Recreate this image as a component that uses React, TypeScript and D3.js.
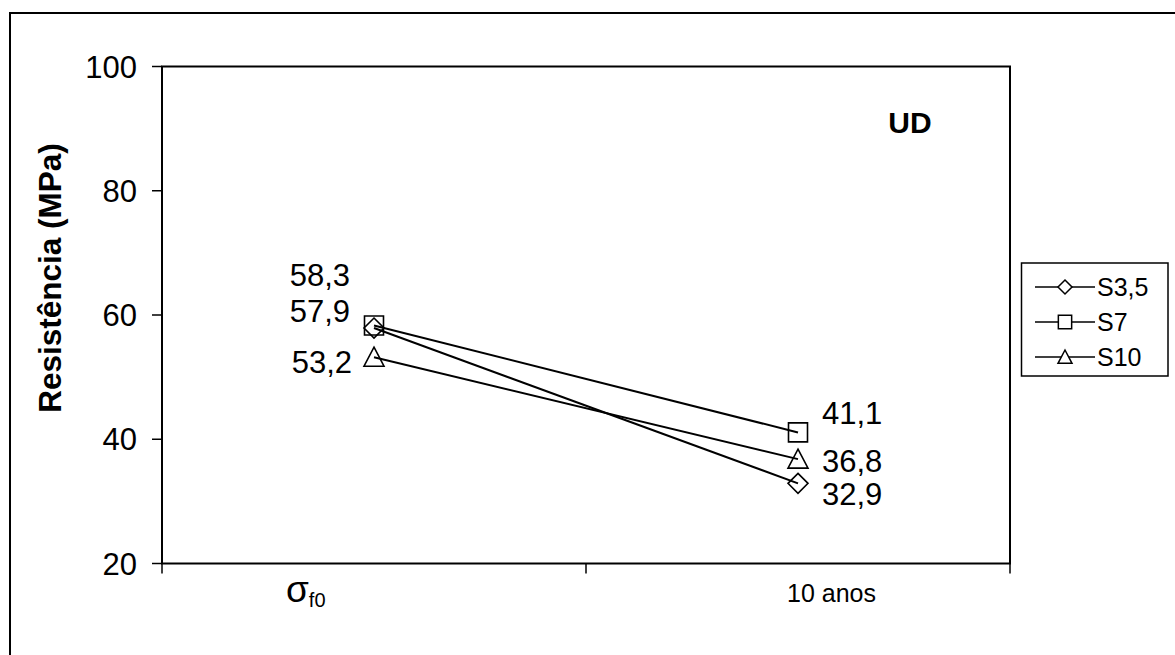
import React, { useEffect, useRef } from "react";
import * as d3 from "d3";

const categories = ["σf0", "10 anos"];
const seriesNames = ["S3,5", "S7", "S10"];
const s35Values = [57.9, 32.9];
const s7Values = [58.3, 41.1];
const s10Values = [53.2, 36.8];
const yTicks = [20, 40, 60, 80, 100];
// Data-label offsets (px) relative to each point: [dx, dy] for each category
const s35LabelOffsets: [number, number][] = [[-24, -6], [24, 22]];
const s7LabelOffsets: [number, number][] = [[-24, -40], [24, -8]];
const s10LabelOffsets: [number, number][] = [[-22, 16], [24, 13]];

const W = 1175;
const H = 655;
const plot = { left: 162, right: 1010, top: 66.5, bottom: 563.5 };
const FONT = "'Liberation Sans', Arial, sans-serif";

export default function App() {
  const ref = useRef<SVGSVGElement | null>(null);

  useEffect(() => {
    document.body.style.margin = "0";
    const svg = d3.select(ref.current);
    svg.selectAll("*").remove();

    const x = d3.scaleBand<string>().domain(categories).range([plot.left, plot.right]).padding(0);
    const y = d3.scaleLinear().domain([20, 100]).range([plot.bottom, plot.top]);
    const cx = (c: string) => (x(c) as number) + x.bandwidth() / 2;

    // Outer chart border (right and bottom lie beyond the view)
    svg.append("rect")
      .attr("x", 10).attr("y", 13)
      .attr("width", W + 20).attr("height", H + 20)
      .attr("fill", "white").attr("stroke", "black").attr("stroke-width", 2);

    // Plot area frame
    svg.append("rect")
      .attr("x", plot.left).attr("y", plot.top)
      .attr("width", plot.right - plot.left).attr("height", plot.bottom - plot.top)
      .attr("fill", "none").attr("stroke", "black").attr("stroke-width", 2);

    // Y axis ticks and labels
    const yAxis = svg.append("g");
    yTicks.forEach((t) => {
      yAxis.append("line")
        .attr("x1", plot.left - 10).attr("x2", plot.left)
        .attr("y1", y(t)).attr("y2", y(t))
        .attr("stroke", "black").attr("stroke-width", 1.5);
      yAxis.append("text")
        .attr("x", plot.left - 25).attr("y", y(t))
        .attr("dy", "0.36em")
        .attr("text-anchor", "end")
        .attr("font-family", FONT).attr("font-size", 31)
        .text(String(t));
    });

    // X axis ticks at category boundaries
    const bounds = [plot.left, ...categories.slice(1).map((c) => x(c) as number), plot.right];
    bounds.forEach((bx) => {
      svg.append("line")
        .attr("x1", bx).attr("x2", bx)
        .attr("y1", plot.bottom).attr("y2", plot.bottom + 10)
        .attr("stroke", "black").attr("stroke-width", 1.5);
    });

    // Category labels
    const c0 = svg.append("text")
      .attr("x", cx(categories[0]) - 88).attr("y", 602)
      .attr("font-family", FONT);
    c0.append("tspan").attr("font-size", 37).text("σ");
    c0.append("tspan").attr("font-size", 20).attr("dy", 5).text("f0");
    svg.append("text")
      .attr("x", cx(categories[1]) - 11).attr("y", 602)
      .attr("font-family", FONT).attr("font-size", 25)
      .text(categories[1]);

    // Y axis title
    svg.append("text")
      .attr("transform", `translate(61, 278) rotate(-90)`)
      .attr("text-anchor", "middle")
      .attr("font-family", FONT).attr("font-size", 31.5).attr("font-weight", "bold")
      .text("Resistência (MPa)");

    // Panel tag
    svg.append("text")
      .attr("x", 910).attr("y", 133)
      .attr("text-anchor", "middle")
      .attr("font-family", FONT).attr("font-size", 30).attr("font-weight", "bold")
      .text("UD");

    const seriesData = [
      { name: seriesNames[0], values: s35Values, offsets: s35LabelOffsets, marker: "diamond" },
      { name: seriesNames[1], values: s7Values, offsets: s7LabelOffsets, marker: "square" },
      { name: seriesNames[2], values: s10Values, offsets: s10LabelOffsets, marker: "triangle" },
    ];

    const markerPath = (kind: string, px: number, py: number, s = 1) => {
      if (kind === "diamond") {
        const r = 10 * s;
        return `M${px},${py - r}L${px + r},${py}L${px},${py + r}L${px - r},${py}Z`;
      }
      if (kind === "square") {
        const r = 9.5 * s;
        return `M${px - r},${py - r}H${px + r}V${py + r}H${px - r}Z`;
      }
      const r = 10 * s;
      return `M${px},${py - r}L${px + r},${py + r * 0.9}L${px - r},${py + r * 0.9}Z`;
    };

    const line = d3.line<number>()
      .x((_, i) => cx(categories[i]))
      .y((v) => y(v));

    seriesData.forEach((s) => {
      svg.append("path")
        .attr("d", line(s.values) as string)
        .attr("fill", "none").attr("stroke", "black").attr("stroke-width", 2);
    });

    seriesData.forEach((s) => {
      s.values.forEach((v, i) => {
        svg.append("path")
          .attr("d", markerPath(s.marker, cx(categories[i]), y(v)))
          .attr("fill", "none").attr("stroke", "black").attr("stroke-width", 1.6);
        const [dx, dy] = s.offsets[i];
        svg.append("text")
          .attr("x", cx(categories[i]) + dx).attr("y", y(v) + dy)
          .attr("text-anchor", i === 0 ? "end" : "start")
          .attr("font-family", FONT).attr("font-size", 31)
          .text(d3.format(".1f")(v).replace(".", ","));
      });
    });

    // Legend
    const lg = svg.append("g");
    lg.append("rect")
      .attr("x", 1021.5).attr("y", 263)
      .attr("width", 146.5).attr("height", 113)
      .attr("fill", "white").attr("stroke", "black").attr("stroke-width", 1.5);
    seriesData.forEach((s, i) => {
      const ly = 287 + i * 35;
      lg.append("line")
        .attr("x1", 1035).attr("x2", 1095)
        .attr("y1", ly).attr("y2", ly)
        .attr("stroke", "black").attr("stroke-width", 1.5);
      lg.append("path")
        .attr("d", markerPath(s.marker, 1065, ly, 0.7))
        .attr("fill", "white").attr("stroke", "black").attr("stroke-width", 1.5);
      lg.append("text")
        .attr("x", 1097).attr("y", ly)
        .attr("dy", "0.36em")
        .attr("font-family", FONT).attr("font-size", 25)
        .text(s.name);
    });
  }, []);

  return <svg ref={ref} width={W} height={H} style={{ display: "block" }} />;
}
